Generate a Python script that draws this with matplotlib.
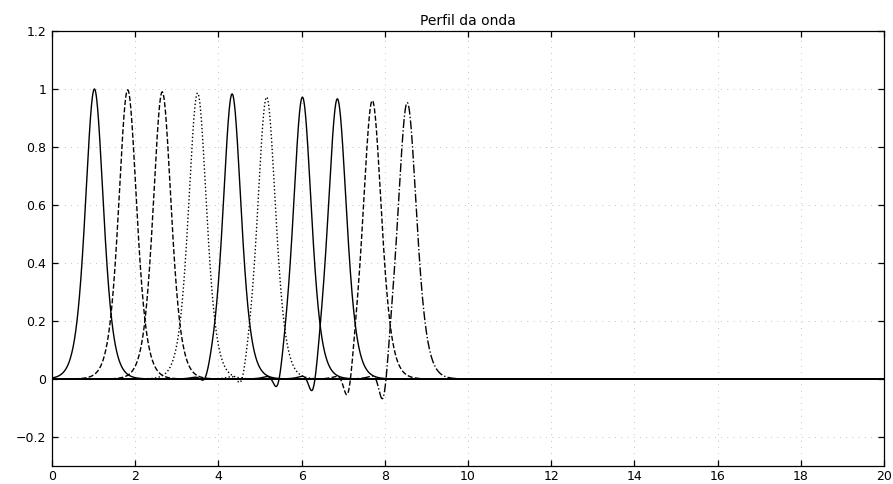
import numpy as np
import matplotlib.pyplot as plt

plt.rcParams['font.family'] = ['DejaVu Sans']

# Soliton snapshots: centre, peak height and width of each pulse
centros = [1.02, 1.82, 2.65, 3.50, 4.33, 5.16, 6.02, 6.86, 7.70, 8.54]
picos = [1.000, 0.997, 0.990, 0.986, 0.983, 0.972, 0.972, 0.966, 0.960, 0.953]
larguras = [0.29, 0.29, 0.29, 0.29, 0.29, 0.29, 0.29, 0.295, 0.295, 0.30]
# trough in front of the later pulses (position and lowest value)
vale_pos = [0.0, 0.0, 0.0, 0.0, 3.68, 4.56, 5.43, 6.28, 7.12, 7.97]
vale_prof = [0.0, 0.0, 0.0, 0.0, -0.004, -0.012, -0.026, -0.040, -0.054, -0.068]
estilos = ['-', '--', '--', ':', '-', ':', '-', '-', '--', '-.']

x = np.linspace(0, 20, 4001)


def perfil(c, a, w, vp, amp):
    u = a / np.cosh((x - c) / w) ** 2
    return u + amp * np.exp(-0.5 * ((x - vp) / 0.1) ** 2)


fig = plt.figure(figsize=(8.93, 4.84), dpi=100)
ax = fig.add_axes([0.0582, 0.0372, 0.9317, 0.8988])

for c, a, w, vp, vd, ls in zip(centros, picos, larguras, vale_pos, vale_prof, estilos):
    amp = 0.0
    if vd < 0:
        # pick the trough amplitude that gives the wanted minimum
        amps = np.linspace(-0.4, 0.0, 401)
        mins = np.array([perfil(c, a, w, vp, m).min() for m in amps])
        amp = np.interp(vd, mins, amps)
    ax.plot(x, perfil(c, a, w, vp, amp), color='black', linestyle=ls, linewidth=1.0)

ax.set_xlim(0, 20)
ax.set_ylim(-0.3, 1.2)
ax.set_xticks(np.arange(0, 21, 2))
ax.set_yticks([-0.2, 0, 0.2, 0.4, 0.6, 0.8, 1.0, 1.2])
ax.set_yticklabels(['\u22120.2', '0', '0.2', '0.4', '0.6', '0.8', '1', '1.2'])
ax.tick_params(axis='both', direction='in', length=4, width=0.9, top=True, right=True,
               labelsize=9)
ax.tick_params(axis='x', pad=3)
ax.tick_params(axis='y', pad=4)
ax.grid(True, color='0.55', linestyle=(0, (1, 8)), linewidth=0.5)
for s in ax.spines.values():
    s.set_linewidth(0.9)

ax.set_title('Perfil da onda', fontsize=10, pad=4)

fig.savefig('out.png', dpi=100)
